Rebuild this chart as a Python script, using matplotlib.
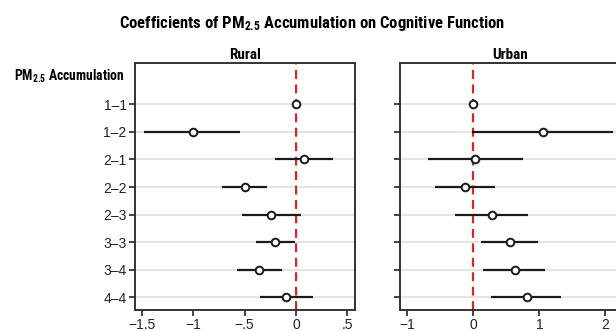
import numpy as np
import matplotlib
matplotlib.use("Agg")
import matplotlib.pyplot as plt

plt.rcParams['font.family'] = ['Liberation Sans', 'DejaVu Sans']
plt.rcParams['mathtext.fontset'] = 'custom'
plt.rcParams['mathtext.rm'] = 'Roboto Condensed:bold'
plt.rcParams['mathtext.bf'] = 'Roboto Condensed:bold'
plt.rcParams['mathtext.it'] = 'Roboto Condensed:bold'

# dati
labels = ["1\u20131", "1\u20132", "2\u20131", "2\u20132", "2\u20133", "3\u20133", "3\u20134", "4\u20134"]

rural_coef = [0.0, -1.00, 0.08, -0.50, -0.24, -0.20, -0.36, -0.10]
rural_lo = [0.0, -1.48, -0.20, -0.72, -0.53, -0.39, -0.57, -0.35]
rural_hi = [0.0, -0.54, 0.36, -0.28, 0.05, -0.01, -0.14, 0.16]

urban_coef = [0.0, 1.06, 0.03, -0.13, 0.28, 0.55, 0.63, 0.81]
urban_lo = [0.0, -0.02, -0.69, -0.58, -0.27, 0.12, 0.15, 0.27]
urban_hi = [0.0, 2.12, 0.75, 0.33, 0.83, 0.98, 1.09, 1.33]

rural_ticks = [-1.5, -1, -0.5, 0, 0.5]
rural_ticklabels = ["\u22121.5", "\u22121", "\u2212.5", "0", ".5"]
urban_ticks = [-1, 0, 1, 2]
urban_ticklabels = ["\u22121", "0", "1", "2"]

fig = plt.figure(figsize=(6.16, 3.31), dpi=100)
W, H = 616, 331


def box(x0, y0, x1, y1):
    # pixel -> coordinate figura
    return [x0 / W, 1 - y1 / H, (x1 - x0) / W, (y1 - y0) / H]


ax1 = fig.add_axes(box(135, 63, 355, 310))
ax2 = fig.add_axes(box(400, 63, 620, 310))

rows = np.arange(1, len(labels) + 1)

panels = [
    (ax1, rural_coef, rural_lo, rural_hi, rural_ticks, rural_ticklabels, (-1.565, 0.573), "Rural"),
    (ax2, urban_coef, urban_lo, urban_hi, urban_ticks, urban_ticklabels, (-1.11, 2.22), "Urban"),
]

for ax, coef, lo, hi, xt, xtl, xl, name in panels:
    for r in rows:
        ax.axhline(r, color="#e2e2e2", lw=1.3, zorder=0)
    ax.axvline(0, color="#d62728", lw=1.6, ls=(0, (4, 2.5)), zorder=1)
    ax.hlines(rows, lo, hi, color="#1a1a1a", lw=1.6, zorder=2)
    ax.plot(coef, rows, "o", ms=5.5, mfc="white", mec="#1a1a1a", mew=1.4, zorder=3)
    ax.set_xlim(*xl)
    ax.set_ylim(8.46, -0.5)
    ax.set_xticks(xt)
    ax.set_xticklabels(xtl)
    ax.set_yticks(rows)
    ax.tick_params(axis="both", direction="out", length=4, width=1.2, labelsize=10, colors="#222222", pad=2)
    for s in ax.spines.values():
        s.set_linewidth(1.4)
        s.set_color("#333333")
    ax.set_title(name, fontsize=11, fontweight="bold", pad=3, family="Roboto Condensed")

ax1.set_yticklabels(labels)
ax2.set_yticklabels([])
ax1.text(-0.045, 0, "PM$_{2.5}$ Accumulation", transform=ax1.get_yaxis_transform(),
         ha="right", va="center", fontsize=9.8, fontweight="bold", family="Roboto Condensed")

fig.text(0.507, 0.93, "Coefficients of PM$_{2.5}$ Accumulation on Cognitive Function",
         ha="center", va="center", fontsize=12, fontweight="bold", family="Roboto Condensed")

fig.savefig("out.png", dpi=100)
